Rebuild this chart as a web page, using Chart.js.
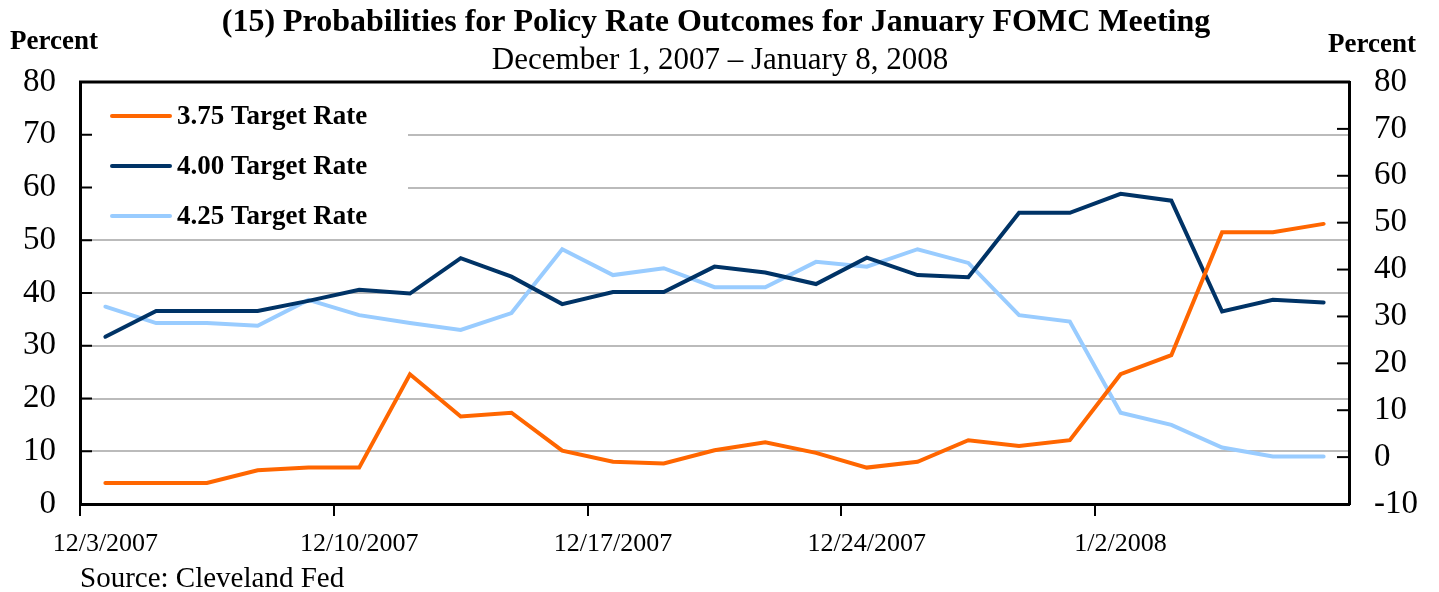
<!DOCTYPE html>
<html>
<head>
<meta charset="utf-8">
<title>Probabilities for Policy Rate Outcomes for January FOMC Meeting</title>
<script src="https://cdn.jsdelivr.net/npm/chart.js@4.4.1/dist/chart.umd.min.js"></script>
<style>
  html, body { margin: 0; padding: 0; background: #fff; }
  #wrap { width: 1439px; height: 592px; position: relative; }
</style>
</head>
<body>
<div id="wrap"><canvas id="fomcChart" width="1439" height="592"></canvas></div>
<script>
/* ===================================================
   FOMC policy rate probabilities — chart data
   =================================================== */

// --- Business days, 12/3/2007 - 1/8/2008 ---
const dates = [
    "12/3/2007", "12/4/2007", "12/5/2007", "12/6/2007", "12/7/2007",
    "12/10/2007", "12/11/2007", "12/12/2007", "12/13/2007", "12/14/2007",
    "12/17/2007", "12/18/2007", "12/19/2007", "12/20/2007", "12/21/2007",
    "12/24/2007", "12/26/2007", "12/27/2007", "12/28/2007", "12/31/2007",
    "1/2/2008", "1/3/2008", "1/4/2008", "1/7/2008", "1/8/2008"
];

// --- Probabilities (percent) ---
const rate375 = [
    4.0, 4.0, 4.0, 6.4, 6.9,
    6.9, 24.6, 16.6, 17.3, 10.1,
    8.0, 7.7, 10.2, 11.7, 9.7,
    6.9, 8.0, 12.1, 11.0, 12.1,
    24.6, 28.2, 51.5, 51.5, 53.1
];
const rate400 = [
    31.7, 36.6, 36.6, 36.6, 38.5,
    40.6, 39.9, 46.6, 43.1, 37.9,
    40.2, 40.2, 45.0, 43.9, 41.7,
    46.7, 43.4, 43.0, 55.2, 55.2,
    58.8, 57.5, 36.5, 38.7, 38.2
];
const rate425 = [
    37.4, 34.3, 34.3, 33.8, 38.7,
    35.8, 34.3, 33.0, 36.2, 48.3,
    43.4, 44.7, 41.1, 41.1, 45.9,
    45.0, 48.3, 45.7, 35.8, 34.6,
    17.3, 15.0, 10.7, 9.0, 9.0
];

const seriesNames = ["3.75 Target Rate", "4.00 Target Rate", "4.25 Target Rate"];
const seriesColors = ["#FF6600", "#003366", "#99CCFF"];

// --- Axis ranges ---
const leftMin = 0, leftMax = 80;
const rightMin = -10, rightMax = 80;
const tickStep = 10;
const labelEvery = 5;

const SERIF = "'Liberation Serif', 'Times New Roman', serif";

// ===================================================
// Plugins: frame, inner tick marks, legend, texts
// ===================================================
const framePlugin = {
    id: "frame",
    afterDraw: function (chart) {
        var ctx = chart.ctx;
        var area = chart.chartArea;
        ctx.save();
        ctx.strokeStyle = "#000";
        ctx.lineWidth = 3;
        ctx.beginPath();
        ctx.moveTo(area.left - 1, area.top);
        ctx.lineTo(area.right + 1, area.top);
        ctx.stroke();

        // tick marks pointing into the plot
        ctx.lineWidth = 2;
        chart.scales.y.ticks.forEach(function (t) {
            var yy = chart.scales.y.getPixelForValue(t.value);
            ctx.beginPath();
            ctx.moveTo(area.left, yy);
            ctx.lineTo(area.left + 12, yy);
            ctx.stroke();
        });
        chart.scales.y2.ticks.forEach(function (t) {
            var yy = chart.scales.y2.getPixelForValue(t.value);
            ctx.beginPath();
            ctx.moveTo(area.right, yy);
            ctx.lineTo(area.right - 12, yy);
            ctx.stroke();
        });
        ctx.restore();
    }
};

const legendPlugin = {
    id: "boxLegend",
    beforeDatasetsDraw: function (chart) {
        var ctx = chart.ctx;
        var area = chart.chartArea;
        ctx.save();
        ctx.fillStyle = "#fff";
        ctx.fillRect(area.left + 2, area.top + 4, 326, 152);
        ctx.font = "bold 27px " + SERIF;
        ctx.textBaseline = "middle";
        ctx.textAlign = "left";
        chart.data.datasets.forEach(function (ds, i) {
            var yy = area.top + 34 + i * 50;
            ctx.strokeStyle = ds.borderColor;
            ctx.lineWidth = 4;
            ctx.lineCap = "round";
            ctx.beginPath();
            ctx.moveTo(area.left + 32, yy);
            ctx.lineTo(area.left + 90, yy);
            ctx.stroke();
            ctx.fillStyle = "#000";
            ctx.fillText(ds.label, area.left + 97, yy + 1);
        });
        ctx.restore();
    }
};

const textPlugin = {
    id: "texts",
    afterDraw: function (chart) {
        var ctx = chart.ctx;
        ctx.save();
        ctx.fillStyle = "#000";
        ctx.textBaseline = "middle";

        ctx.textAlign = "center";
        ctx.font = "bold 32px " + SERIF;
        ctx.fillText("(15) Probabilities for Policy Rate Outcomes for January FOMC Meeting", 716, 23);
        ctx.font = "31px " + SERIF;
        ctx.fillText("December 1, 2007 \u2013 January 8, 2008", 720, 61);

        ctx.font = "bold 27px " + SERIF;
        ctx.textAlign = "left";
        ctx.fillText("Percent", 10, 42);
        ctx.fillText("Percent", 1328, 45);

        ctx.font = "29px " + SERIF;
        ctx.fillText("Source: Cleveland Fed", 80, 579);
        ctx.restore();
    }
};

// ===================================================
// Build chart
// ===================================================
const datasets = [rate375, rate400, rate425].map(function (values, i) {
    return {
        label: seriesNames[i],
        data: values,
        borderColor: seriesColors[i],
        backgroundColor: seriesColors[i],
        borderWidth: 4,
        borderCapStyle: "round",
        pointRadius: 0,
        tension: 0,
        yAxisID: "y"
    };
});

new Chart(document.getElementById("fomcChart"), {
    type: "line",
    data: { labels: dates, datasets: datasets },
    options: {
        responsive: false,
        animation: false,
        events: [],
        layout: { padding: { top: 82, left: 0, right: 0, bottom: 0 } },
        plugins: {
            legend: { display: false },
            title: { display: false },
            tooltip: { enabled: false }
        },
        scales: {
            x: {
                type: "category",
                offset: true,
                grid: {
                    offset: true,
                    drawOnChartArea: false,
                    drawTicks: true,
                    tickLength: 12,
                    lineWidth: 2,
                    color: function (ctx) {
                        return ctx.index !== undefined && ctx.index % labelEvery === 0 ? "#000" : "rgba(0,0,0,0)";
                    }
                },
                border: { color: "#000", width: 3 },
                ticks: {
                    autoSkip: false,
                    maxRotation: 0,
                    minRotation: 0,
                    padding: 13,
                    color: "#000",
                    font: { family: SERIF, size: 26 },
                    callback: function (value, index) {
                        return index % labelEvery === 0 ? dates[index] : "";
                    }
                },
                afterFit: function (scale) { scale.height = 88; }
            },
            y: {
                position: "left",
                min: leftMin,
                max: leftMax,
                grid: {
                    drawTicks: false,
                    lineWidth: 2,
                    color: function (ctx) {
                        var v = ctx.tick ? ctx.tick.value : null;
                        return (v === leftMin || v === leftMax) ? "rgba(0,0,0,0)" : "#BBBBBB";
                    }
                },
                border: { color: "#000", width: 3 },
                ticks: {
                    stepSize: tickStep,
                    padding: 24,
                    color: "#000",
                    font: { family: SERIF, size: 33 }
                },
                afterFit: function (scale) { scale.width = 80; }
            },
            y2: {
                position: "right",
                display: true,
                min: rightMin,
                max: rightMax,
                grid: { drawOnChartArea: false, drawTicks: false },
                border: { color: "#000", width: 3 },
                ticks: {
                    stepSize: tickStep,
                    padding: 25,
                    color: "#000",
                    font: { family: SERIF, size: 33 }
                },
                afterFit: function (scale) { scale.width = 90; }
            }
        }
    },
    plugins: [legendPlugin, framePlugin, textPlugin]
});
</script>
</body>
</html>
